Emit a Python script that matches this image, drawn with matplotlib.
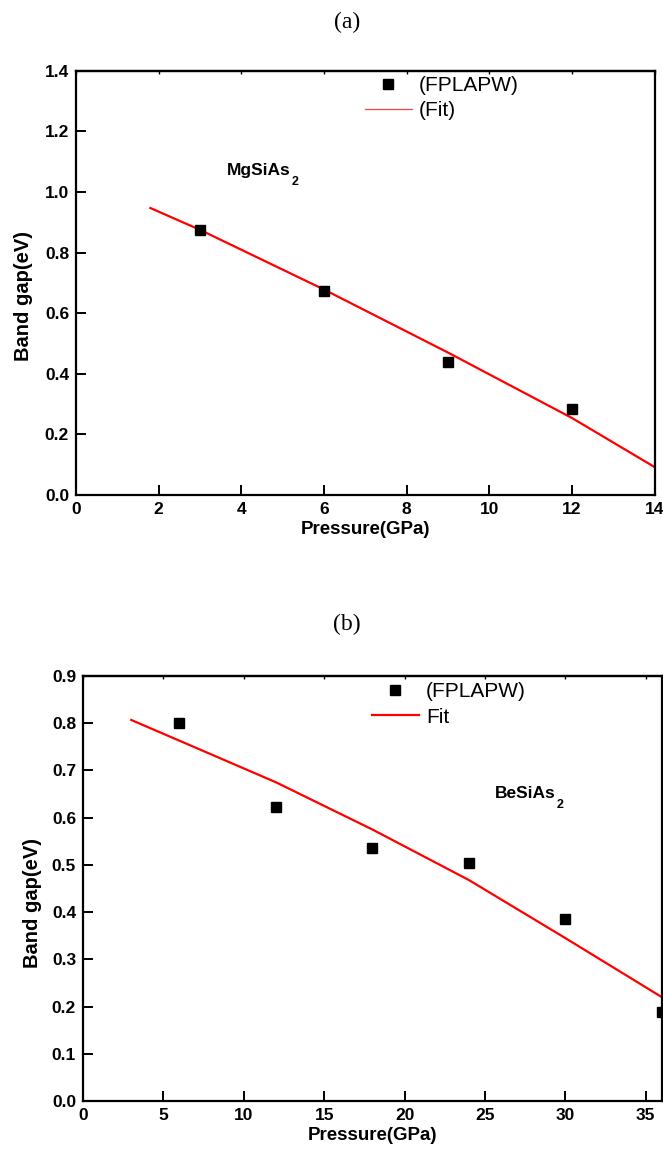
import matplotlib
matplotlib.use("Agg")
from matplotlib import pyplot as plt
from matplotlib.lines import Line2D

plt.rcParams['font.family'] = ['Liberation Sans', 'DejaVu Sans']

# MgSiAs2: FPLAPW band gaps and fitted curve
p_mg = [3, 6, 9, 12]
gap_mg = [0.875, 0.673, 0.438, 0.284]
fit_p_mg = [1.8, 3, 6, 9, 12, 14]
fit_gap_mg = [0.947, 0.875, 0.678, 0.470, 0.254, 0.092]

# BeSiAs2: FPLAPW band gaps and fitted curve
p_be = [6, 12, 18, 24, 30, 36]
gap_be = [0.800, 0.623, 0.536, 0.504, 0.386, 0.189]
fit_p_be = [3, 7.3, 12, 18, 24, 30, 36]
fit_gap_be = [0.807, 0.744, 0.675, 0.575, 0.468, 0.345, 0.220]

fig = plt.figure(figsize=(6.63, 11.61), dpi=100)
ax1 = fig.add_axes([0.1146, 0.5736, 0.873, 0.3655])
ax2 = fig.add_axes([0.1252, 0.0517, 0.873, 0.366])


def style_axes(ax, xticks, xmax, ymax, ystep, ylab_x, ylab_y):
    ax.set_xlim(0, xmax)
    ax.set_ylim(0, ymax)
    yt = [i * ystep for i in range(int(round(ymax / ystep)) + 1)]
    ax.set_xticks(xticks)
    ax.set_yticks(yt)
    ax.set_xticklabels([str(v) for v in xticks], fontweight='bold')
    ax.set_yticklabels(['{:.1f}'.format(v) for v in yt], fontweight='bold')
    for s in ax.spines.values():
        s.set_linewidth(1.6)
    ax.tick_params(direction='in', length=7, width=1.4, labelsize=12.5, pad=5)
    # tiny marks along the top frame
    sec = ax.secondary_xaxis('top')
    sec.set_xticks(xticks)
    sec.tick_params(direction='in', length=2, width=1.0, labeltop=False)
    sec.spines['top'].set_linewidth(1.6)
    ax.set_xlabel('Pressure(GPa)', fontsize=13.5, fontweight='bold', labelpad=3)
    ax.set_ylabel('Band gap(eV)', fontsize=14.5, fontweight='bold')
    ax.yaxis.set_label_coords(ylab_x, ylab_y)


def formula(ax, x, y, base):
    # chemical formula with a lowered "2" subscript
    t = ax.text(x, y, base, fontsize=12.5, fontweight='bold',
                ha='left', va='center')
    ax.annotate('2', xy=(1, 0), xycoords=t, xytext=(1, -3),
                textcoords='offset points', fontsize=9, fontweight='bold',
                ha='left', va='center')


# panel (a)
ax1.plot(fit_p_mg, fit_gap_mg, color='#ff0000', lw=1.6)
ax1.plot(p_mg, gap_mg, 's', color='black', ms=6.5)
style_axes(ax1, [0, 2, 4, 6, 8, 10, 12, 14], 14, 1.4, 0.2, -0.074, 0.47)
formula(ax1, 3.65, 1.07, 'MgSiAs')
h1 = [Line2D([], [], ls='none', marker='s', color='black', ms=6.5),
      Line2D([], [], color='#ff4040', lw=0.9)]
ax1.legend(h1, ['(FPLAPW)', '(Fit)'], loc='upper left',
           bbox_to_anchor=(0.499, 0.988), frameon=False, fontsize=15,
           handlelength=2.25, handletextpad=0.35, labelspacing=0.3,
           borderpad=0, borderaxespad=0)
fig.text(0.523, 0.981, '(a)', family='Liberation Serif', fontsize=17,
         ha='center', va='center')

# panel (b)
ax2.plot(fit_p_be, fit_gap_be, color='#ff0000', lw=1.6)
ax2.plot(p_be, gap_be, 's', color='black', ms=6.5)
style_axes(ax2, [0, 5, 10, 15, 20, 25, 30, 35], 36, 0.9, 0.1, -0.071, 0.465)
formula(ax2, 25.6, 0.652, 'BeSiAs')
h2 = [Line2D([], [], ls='none', marker='s', color='black', ms=6.5),
      Line2D([], [], color='#ff0000', lw=1.6)]
ax2.legend(h2, ['(FPLAPW)', 'Fit'], loc='upper left',
           bbox_to_anchor=(0.499, 0.985), frameon=False, fontsize=15,
           handlelength=2.25, handletextpad=0.35, labelspacing=0.3,
           borderpad=0, borderaxespad=0)
fig.text(0.523, 0.462, '(b)', family='Liberation Serif', fontsize=17,
         ha='center', va='center')

fig.savefig('out.png', dpi=100)
